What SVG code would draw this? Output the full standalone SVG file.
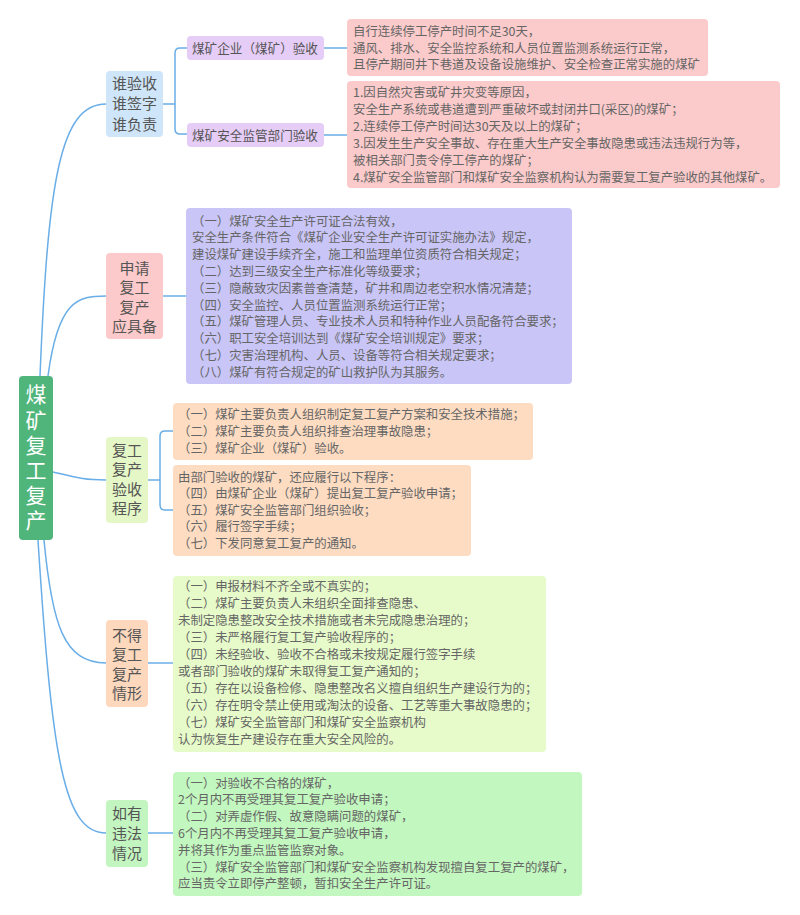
<svg xmlns="http://www.w3.org/2000/svg" width="800" height="915" viewBox="0 0 800 915">
<style>
text{font-family:"Noto Sans CJK SC","Noto Sans",sans-serif}
.lf{font-size:12.4px;fill:#666}
.br{font-size:15px;fill:#555;text-anchor:middle}
.sb{font-size:12.6px;fill:#555}
.rt{font-size:21px;fill:#fff;writing-mode:vertical-rl;letter-spacing:4.2px}
.cn{fill:none;stroke:#6aaee8;stroke-width:1.5}
</style>
<rect width="800" height="915" fill="#fff"/>
<g id="connectors">
<path class="cn" d="M40 376 C48 180 60 104 106 104"/>
<path class="cn" d="M48 376 C58 300 78 296 106 296"/>
<path class="cn" d="M53 472 C78 478 84 480 106 480"/>
<path class="cn" d="M44 540 C52 625 64 663 106 663"/>
<path class="cn" d="M38 540 C52 760 64 833 106 833"/>
<path class="cn" d="M163 104 H175 M187 48 H180 Q175 48 175 53 V129 Q175 134 180 134 H187"/>
<path class="cn" d="M324 48 H347 M324 135 H347"/>
<path class="cn" d="M163 296 H186"/>
<path class="cn" d="M148 480 H160 M173 431 H165 Q160 431 160 436 V505 Q160 510 165 510 H173"/>
<path class="cn" d="M148 663 H173"/>
<path class="cn" d="M148 833 H173"/>
</g>
<g id="root">
<rect x="19" y="376" width="34" height="164" rx="4" fill="#50b57a"/>
<text class="rt" x="36" y="384">煤矿复工复产</text>
</g>
<g id="b1">
<rect x="106" y="71" width="57" height="66" rx="4" fill="#cfe5f9"/>
<text class="br" x="134.5" y="88.5">谁验收</text>
<text class="br" x="134.5" y="109">谁签字</text>
<text class="br" x="134.5" y="129.5">谁负责</text>
</g>
<g id="s1">
<rect x="187" y="36" width="137" height="24" rx="4" fill="#e6cdf7"/>
<text class="sb" x="192" y="52.5">煤矿企业（煤矿）验收</text>
</g>
<g id="s2">
<rect x="187" y="123" width="137" height="24" rx="4" fill="#e6cdf7"/>
<text class="sb" x="192" y="139.5">煤矿安全监管部门验收</text>
</g>
<g id="l1">
<rect x="347" y="19" width="361" height="57" rx="4" fill="#fbcaca"/>
<text class="lf" x="353" y="35.8">自行连续停工停产时间不足30天，</text>
<text class="lf" x="353" y="52.6">通风、排水、安全监控系统和人员位置监测系统运行正常，</text>
<text class="lf" x="353" y="69.4">且停产期间井下巷道及设备设施维护、安全检查正常实施的煤矿</text>
</g>
<g id="l2">
<rect x="347" y="81" width="433" height="107" rx="4" fill="#fbcaca"/>
<text class="lf" x="353" y="96.5">1.因自然灾害或矿井灾变等原因，</text>
<text class="lf" x="353" y="113.5">安全生产系统或巷道遭到严重破坏或封闭井口(采区)的煤矿；</text>
<text class="lf" x="353" y="130.5">2.连续停工停产时间达30天及以上的煤矿；</text>
<text class="lf" x="353" y="147.5">3.因发生生产安全事故、存在重大生产安全事故隐患或违法违规行为等，</text>
<text class="lf" x="353" y="165">被相关部门责令停工停产的煤矿；</text>
<text class="lf" x="353" y="182">4.煤矿安全监管部门和煤矿安全监察机构认为需要复工复产验收的其他煤矿。</text>
</g>
<g id="b2">
<rect x="106" y="253" width="57" height="86" rx="4" fill="#fccaca"/>
<text class="br" x="134.5" y="273.5">申请</text>
<text class="br" x="134.5" y="293">复工</text>
<text class="br" x="134.5" y="312.5">复产</text>
<text class="br" x="134.5" y="332">应具备</text>
</g>
<g id="l3">
<rect x="186" y="208" width="386" height="176" rx="4" fill="#c9c5f7"/>
<text class="lf" x="192" y="225.5">（一）煤矿安全生产许可证合法有效，</text>
<text class="lf" x="192" y="242.3">安全生产条件符合《煤矿企业安全生产许可证实施办法》规定，</text>
<text class="lf" x="192" y="259.1">建设煤矿建设手续齐全，施工和监理单位资质符合相关规定；</text>
<text class="lf" x="192" y="275.9">（二）达到三级安全生产标准化等级要求；</text>
<text class="lf" x="192" y="292.7">（三）隐蔽致灾因素普查清楚，矿井和周边老空积水情况清楚；</text>
<text class="lf" x="192" y="309.5">（四）安全监控、人员位置监测系统运行正常；</text>
<text class="lf" x="192" y="326.3">（五）煤矿管理人员、专业技术人员和特种作业人员配备符合要求；</text>
<text class="lf" x="192" y="343.1">（六）职工安全培训达到《煤矿安全培训规定》要求；</text>
<text class="lf" x="192" y="359.9">（七）灾害治理机构、人员、设备等符合相关规定要求；</text>
<text class="lf" x="192" y="376.7">（八）煤矿有符合规定的矿山救护队为其服务。</text>
</g>
<g id="b3">
<rect x="106" y="437" width="42" height="86" rx="4" fill="#e5f7c6"/>
<text class="br" x="127" y="455.5">复工</text>
<text class="br" x="127" y="475">复产</text>
<text class="br" x="127" y="494.5">验收</text>
<text class="br" x="127" y="514">程序</text>
</g>
<g id="l4">
<rect x="173" y="403" width="360" height="57" rx="4" fill="#fddcc2"/>
<text class="lf" x="178" y="418.5">（一）煤矿主要负责人组织制定复工复产方案和安全技术措施；</text>
<text class="lf" x="178" y="435.5">（二）煤矿主要负责人组织排查治理事故隐患；</text>
<text class="lf" x="178" y="452.5">（三）煤矿企业（煤矿）验收。</text>
</g>
<g id="l5">
<rect x="173" y="465" width="298" height="91" rx="4" fill="#fddcc2"/>
<text class="lf" x="178" y="481.5">由部门验收的煤矿，还应履行以下程序：</text>
<text class="lf" x="178" y="498">（四）由煤矿企业（煤矿）提出复工复产验收申请；</text>
<text class="lf" x="178" y="514.5">（五）煤矿安全监管部门组织验收；</text>
<text class="lf" x="178" y="531">（六）履行签字手续；</text>
<text class="lf" x="178" y="547.5">（七）下发同意复工复产的通知。</text>
</g>
<g id="b4">
<rect x="106" y="620" width="42" height="87" rx="4" fill="#fdd8bd"/>
<text class="br" x="127" y="640.5">不得</text>
<text class="br" x="127" y="660">复工</text>
<text class="br" x="127" y="679.5">复产</text>
<text class="br" x="127" y="699">情形</text>
</g>
<g id="l6">
<rect x="173" y="576" width="373" height="176" rx="4" fill="#e6fbc9"/>
<text class="lf" x="178" y="590.5">（一）申报材料不齐全或不真实的；</text>
<text class="lf" x="178" y="607.6">（二）煤矿主要负责人未组织全面排查隐患、</text>
<text class="lf" x="178" y="624.7">未制定隐患整改安全技术措施或者未完成隐患治理的；</text>
<text class="lf" x="178" y="641.8">（三）未严格履行复工复产验收程序的；</text>
<text class="lf" x="178" y="658.9">（四）未经验收、验收不合格或未按规定履行签字手续</text>
<text class="lf" x="178" y="676">或者部门验收的煤矿未取得复工复产通知的；</text>
<text class="lf" x="178" y="693.1">（五）存在以设备检修、隐患整改名义擅自组织生产建设行为的；</text>
<text class="lf" x="178" y="710.2">（六）存在明令禁止使用或淘汰的设备、工艺等重大事故隐患的；</text>
<text class="lf" x="178" y="727.3">（七）煤矿安全监管部门和煤矿安全监察机构</text>
<text class="lf" x="178" y="744.4">认为恢复生产建设存在重大安全风险的。</text>
</g>
<g id="b5">
<rect x="106" y="800" width="42" height="67" rx="4" fill="#c3f5c0"/>
<text class="br" x="127" y="818.5">如有</text>
<text class="br" x="127" y="838.5">违法</text>
<text class="br" x="127" y="858.5">情况</text>
</g>
<g id="l7">
<rect x="173" y="772" width="409" height="124" rx="4" fill="#c2f7bf"/>
<text class="lf" x="178" y="787.5">（一）对验收不合格的煤矿，</text>
<text class="lf" x="178" y="804.3">2个月内不再受理其复工复产验收申请；</text>
<text class="lf" x="178" y="821.1">（二）对弄虚作假、故意隐瞒问题的煤矿，</text>
<text class="lf" x="178" y="837.9">6个月内不再受理其复工复产验收申请，</text>
<text class="lf" x="178" y="854.7">并将其作为重点监管监察对象。</text>
<text class="lf" x="178" y="871.5">（三）煤矿安全监管部门和煤矿安全监察机构发现擅自复工复产的煤矿，</text>
<text class="lf" x="178" y="888.3">应当责令立即停产整顿，暂扣安全生产许可证。</text>
</g>
</svg>
